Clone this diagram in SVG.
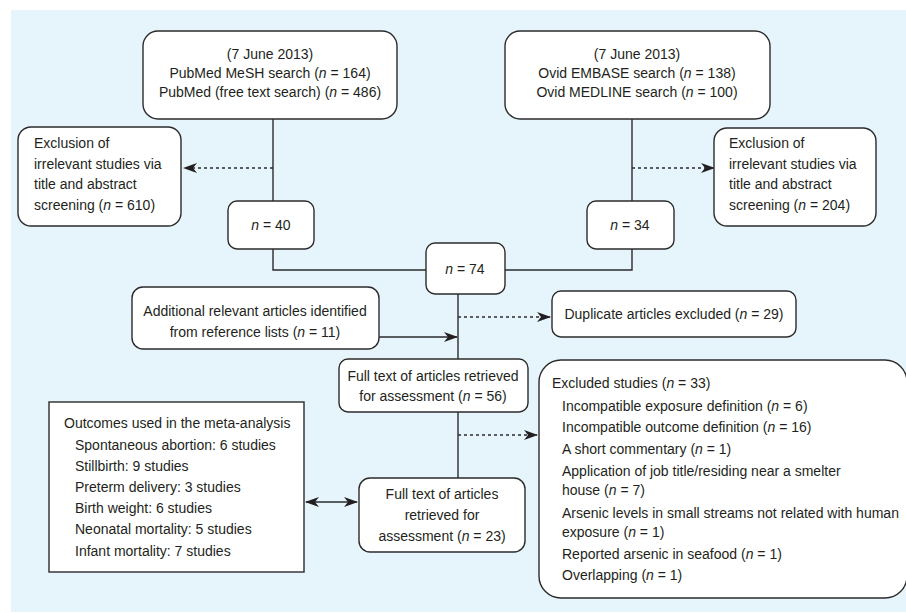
<svg xmlns="http://www.w3.org/2000/svg" width="906" height="613" viewBox="0 0 906 613">
<defs>
<style>
.box{fill:#fff;stroke:#2b2b2b;stroke-width:1.4}
.ln{fill:none;stroke:#2b2b2b;stroke-width:1.4}
.dot{fill:none;stroke:#2b2b2b;stroke-width:1.3;stroke-dasharray:3 3}
text{font-family:"Liberation Sans",Arial,sans-serif;font-size:14px;fill:#231f20}
.c{text-anchor:middle}
.i{font-style:italic}
</style>
<marker id="ah" viewBox="0 0 14 10" refX="13" refY="5" markerWidth="14" markerHeight="10" markerUnits="userSpaceOnUse" orient="auto-start-reverse">
<path d="M0,0 L14,5 L0,10 L4,5 Z" fill="#231f20"/>
</marker>
</defs>
<rect x="11" y="10" width="895" height="602" fill="#e6f4fc"/>

<g id="connectors">
<line class="ln" x1="273" y1="119" x2="273" y2="201"/>
<line class="dot" x1="273" y1="168" x2="184" y2="168" marker-end="url(#ah)"/>
<line class="ln" x1="632" y1="119" x2="632" y2="201"/>
<line class="dot" x1="632" y1="168" x2="714" y2="168" marker-end="url(#ah)"/>
<polyline class="ln" points="273,249 273,270 426,270"/>
<polyline class="ln" points="632,249 632,270 505,270"/>
<line class="ln" x1="458" y1="294" x2="458" y2="359"/>
<line class="ln" x1="379" y1="337" x2="457" y2="337" marker-end="url(#ah)"/>
<line class="dot" x1="458" y1="317" x2="550" y2="317" marker-end="url(#ah)"/>
<line class="ln" x1="458" y1="412" x2="458" y2="478"/>
<line class="dot" x1="458" y1="435" x2="537" y2="435" marker-end="url(#ah)"/>
<line class="ln" x1="306" y1="502" x2="357" y2="502" marker-start="url(#ah)" marker-end="url(#ah)"/>
</g>

<g id="pubmed">
<rect class="box" x="143" y="31" width="254" height="88" rx="15"/>
<text class="c" x="270" y="59">(7 June 2013)</text>
<text class="c" x="270" y="78">PubMed MeSH search (<tspan class="i">n</tspan> = 164)</text>
<text class="c" x="270" y="97">PubMed (free text search) (<tspan class="i">n</tspan> = 486)</text>
</g>

<g id="ovid">
<rect class="box" x="505" y="31" width="265" height="88" rx="15"/>
<text class="c" x="637" y="59">(7 June 2013)</text>
<text class="c" x="637" y="78">Ovid EMBASE search (<tspan class="i">n</tspan> = 138)</text>
<text class="c" x="637" y="97">Ovid MEDLINE search (<tspan class="i">n</tspan> = 100)</text>
</g>

<g id="excl-left">
<rect class="box" x="18" y="127" width="163" height="99" rx="13"/>
<text x="34" y="148">Exclusion of</text>
<text x="34" y="169">irrelevant studies via</text>
<text x="34" y="189">title and abstract</text>
<text x="34" y="210">screening (<tspan class="i">n</tspan> = 610)</text>
</g>

<g id="excl-right">
<rect class="box" x="714" y="128" width="162" height="98" rx="13"/>
<text x="729" y="148">Exclusion of</text>
<text x="729" y="169">irrelevant studies via</text>
<text x="729" y="189">title and abstract</text>
<text x="729" y="210">screening (<tspan class="i">n</tspan> = 204)</text>
</g>

<g id="n40">
<rect class="box" x="228" y="201" width="86" height="48" rx="9"/>
<text class="c" x="271" y="230"><tspan class="i">n</tspan> = 40</text>
</g>

<g id="n34">
<rect class="box" x="587" y="201" width="87" height="48" rx="9"/>
<text class="c" x="630" y="230"><tspan class="i">n</tspan> = 34</text>
</g>

<g id="n74">
<rect class="box" x="426" y="243" width="79" height="51" rx="9"/>
<text class="c" x="465" y="274"><tspan class="i">n</tspan> = 74</text>
</g>

<g id="additional">
<rect class="box" x="132" y="287" width="247" height="62" rx="11"/>
<text class="c" x="255" y="316">Additional relevant articles identified</text>
<text class="c" x="255" y="337">from reference lists (<tspan class="i">n</tspan> = 11)</text>
</g>

<g id="duplicate">
<rect class="box" x="552" y="291" width="244" height="46" rx="9"/>
<text class="c" x="674" y="319">Duplicate articles excluded (<tspan class="i">n</tspan> = 29)</text>
</g>

<g id="fulltext56">
<rect class="box" x="339" y="359" width="189" height="53" rx="9"/>
<text class="c" x="433" y="381">Full text of articles retrieved</text>
<text class="c" x="433" y="401">for assessment (<tspan class="i">n</tspan> = 56)</text>
</g>

<g id="excluded">
<rect class="box" x="539" y="360" width="368" height="238" rx="22"/>
<text x="552" y="388">Excluded studies (<tspan class="i">n</tspan> = 33)</text>
<text x="562" y="411">Incompatible exposure definition (<tspan class="i">n</tspan> = 6)</text>
<text x="562" y="432">Incompatible outcome definition (<tspan class="i">n</tspan> = 16)</text>
<text x="562" y="454">A short commentary (<tspan class="i">n</tspan> = 1)</text>
<text x="562" y="476">Application of job title/residing near a smelter</text>
<text x="562" y="495">house (<tspan class="i">n</tspan> = 7)</text>
<text x="562" y="518">Arsenic levels in small streams not related with human</text>
<text x="562" y="537">exposure (<tspan class="i">n</tspan> = 1)</text>
<text x="562" y="559">Reported arsenic in seafood (<tspan class="i">n</tspan> = 1)</text>
<text x="562" y="580">Overlapping (<tspan class="i">n</tspan> = 1)</text>
</g>

<g id="outcomes">
<rect class="box" x="49" y="402" width="255" height="170"/>
<text x="64" y="428">Outcomes used in the meta-analysis</text>
<text x="75" y="450">Spontaneous abortion: 6 studies</text>
<text x="75" y="471">Stillbirth: 9 studies</text>
<text x="75" y="492">Preterm delivery: 3 studies</text>
<text x="75" y="513">Birth weight: 6 studies</text>
<text x="75" y="534">Neonatal mortality: 5 studies</text>
<text x="75" y="556">Infant mortality: 7 studies</text>
</g>

<g id="fulltext23">
<rect class="box" x="359" y="478" width="166" height="74" rx="11"/>
<text class="c" x="442" y="499">Full text of articles</text>
<text class="c" x="442" y="520">retrieved for</text>
<text class="c" x="442" y="541">assessment (<tspan class="i">n</tspan> = 23)</text>
</g>
</svg>
